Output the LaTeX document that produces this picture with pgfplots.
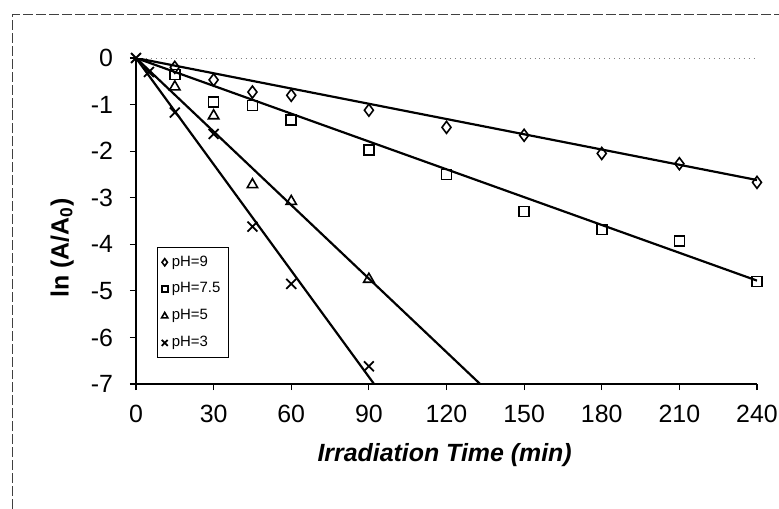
\documentclass[border=0pt]{standalone}
\usepackage{fontspec}
\setmainfont{Liberation Sans}
\usepackage{pgfplots}
\pgfplotsset{compat=1.18}
\begin{document}
\begin{tikzpicture}
\useasboundingbox (-68bp,-62.5bp) rectangle (321.5bp,192bp);
\draw[black!75, line width=0.5pt, dash pattern=on 5pt off 1.5pt] (-62bp,-62.5bp) -- (-62bp,184.5bp) -- (321.5bp,184.5bp);
\begin{axis}[
  at={(0,0)}, anchor=south west, scale only axis,
  width=310.5bp, height=163bp,
  xmin=0, xmax=240, ymin=-7, ymax=0,
  axis x line*=bottom, axis y line*=left,
  axis line style={-, line width=1pt},
  xtick={0,30,...,240}, ytick={-7,-6,...,0},
  tick align=outside, major tick length=3bp,
  tick style={black, line width=0.6pt},
  ticklabel style={font=\fontsize{12.5}{14}\selectfont},
  /pgf/number format/assume math mode=true,
  xticklabel style={yshift=-4bp},
  yticklabel style={xshift=-5bp},
  xlabel={\bfseries\itshape Irradiation Time (min)},
  ylabel={\bfseries ln (A/A\textsubscript{0})},
  xlabel style={at={(axis description cs:0.497,-0.218)}, anchor=center, font=\fontsize{12.5}{14}\selectfont},
  ylabel style={at={(axis description cs:-0.119,0.417)}, anchor=center, font=\fontsize{12.5}{14}\selectfont},
  legend style={at={(axis description cs:0.034,0.42)}, anchor=north west,
    font=\fontsize{7.5}{9}\selectfont, draw=black, line width=0.5pt,
    row sep=2.8bp, inner sep=2bp, legend cell align=left},
  legend image post style={scale=0.6},
  clip=true,
]
\draw[black!50, dotted, line width=0.5pt] (axis cs:0,0) -- (axis cs:240,0);

\addplot[only marks, mark=diamond, mark size=3bp, mark options={black, line width=0.8pt, fill=white}] coordinates {
(15,-0.2) (30,-0.47) (45,-0.73) (60,-0.8) (90,-1.12) (120,-1.49) (150,-1.66) (180,-2.05) (210,-2.27) (240,-2.67)};
\addlegendentry{pH=9}
\addplot[only marks, mark=square, mark size=2.5bp, mark options={black, line width=0.8pt, fill=white}] coordinates {
(15,-0.35) (30,-0.95) (45,-1.02) (60,-1.33) (90,-1.97) (120,-2.5) (150,-3.3) (180,-3.68) (210,-3.93) (240,-4.8)};
\addlegendentry{pH=7.5}
\addplot[only marks, mark=triangle, mark size=3bp, mark options={black, line width=0.8pt, fill=white}] coordinates {
(15,-0.62) (30,-1.24) (45,-2.72) (60,-3.08) (90,-4.75)};
\addlegendentry{pH=5}
\addplot[only marks, mark=x, mark size=3.5bp, mark options={black, line width=0.9pt}] coordinates {
(0,0) (5,-0.3) (15,-1.17) (30,-1.63) (45,-3.62) (60,-4.85) (90,-6.62)};
\addlegendentry{pH=3}

\addplot[black, line width=1.1pt, forget plot] coordinates {(0,0) (240,-2.62)};
\addplot[black, line width=1.1pt, forget plot] coordinates {(0,0) (240,-4.78)};
\addplot[black, line width=1.1pt, forget plot] coordinates {(0,0) (133,-7)};
\addplot[black, line width=1.1pt, forget plot] coordinates {(0,0) (92,-7)};
\end{axis}
\end{tikzpicture}
\end{document}
